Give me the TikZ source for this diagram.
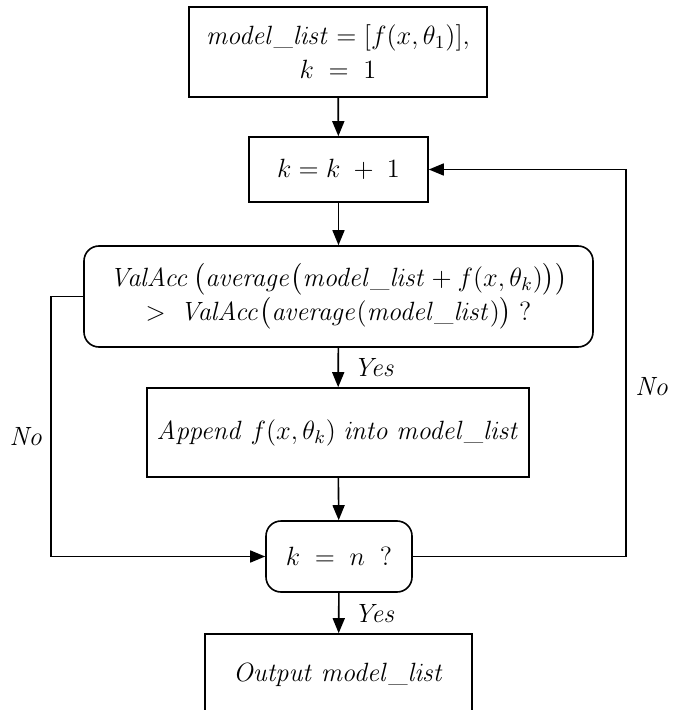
\RequirePackage{fix-cm}
\documentclass[tikz,border=0pt]{standalone}
\usepackage{amsmath,amssymb}
\usepackage{tikz}
\usepackage{xcolor}
\usetikzlibrary{arrows.meta}

\begin{document}
\begin{tikzpicture}[x=0.5pt,y=-0.5pt,
  box/.style={draw,line width=0.8pt,align=center,inner sep=0pt,font=\fontsize{13.2}{17}\selectfont},
  rbox/.style={box,rounded corners=7.5pt},
  arr/.style={-{Triangle[length=7.5pt,width=6pt]},line width=0.8pt},
  lbl/.style={font=\fontsize{13.2}{15}\selectfont}]
\useasboundingbox (0,0) rectangle (681,710);
\clip (0,0) rectangle (681,710);
\node[box,minimum width=149pt,minimum height=45pt] (init) at (338,52) {$\mathit{model\_list}=[f(x,\theta_1)],$\\$k\;=\;1$};
\node[box,minimum width=89.5pt,minimum height=32.5pt] (incr) at (338.5,169.5) {$k=k\;+\;1$};
\node[rbox,minimum width=254.5pt,minimum height=50.5pt] (check) at (338.5,296.5)
  {$\mathit{ValAcc}\,\bigl(\mathit{average}\bigl(\mathit{model\_list}+f(x,\theta_k)\bigr)\bigr)$\\
   $>\;\mathit{ValAcc}\bigl(\mathit{average}(\mathit{model\_list})\bigr)\;?$};
\node[box,minimum width=191pt,minimum height=44.5pt] (append) at (338,432.5) {$\mathit{Append}\;f(x,\theta_k)\;\mathit{into}\;\mathit{model\_list}$};
\node[rbox,minimum width=73pt,minimum height=35.5pt] (stop) at (339,556.5) {$k\;=\;n\;\;?$};
\node[box,minimum width=133.5pt,minimum height=41pt] (out) at (338.5,675) {$\mathit{Output}\;\mathit{model\_list}$};
\coordinate (lft) at (51,296.5);
\coordinate (rgt) at (626,556.5);
\draw[arr] (init) -- (incr);
\draw[arr] (incr) -- (check);
\draw[arr] (check) -- node[lbl,right=4pt]{$\mathit{Yes}$} (append);
\draw[arr] (append) -- (stop);
\draw[arr] (stop) -- node[lbl,right=4pt]{$\mathit{Yes}$} (out);
\draw[arr] (check.west) -- (lft) |- node[lbl,pos=0.27,left]{$\mathit{No}$} (stop.west);
\draw[arr] (stop.east) -- (rgt) |- node[lbl,pos=0.22,right=1pt]{$\mathit{No}$} (incr.east);
\end{tikzpicture}
\end{document}
